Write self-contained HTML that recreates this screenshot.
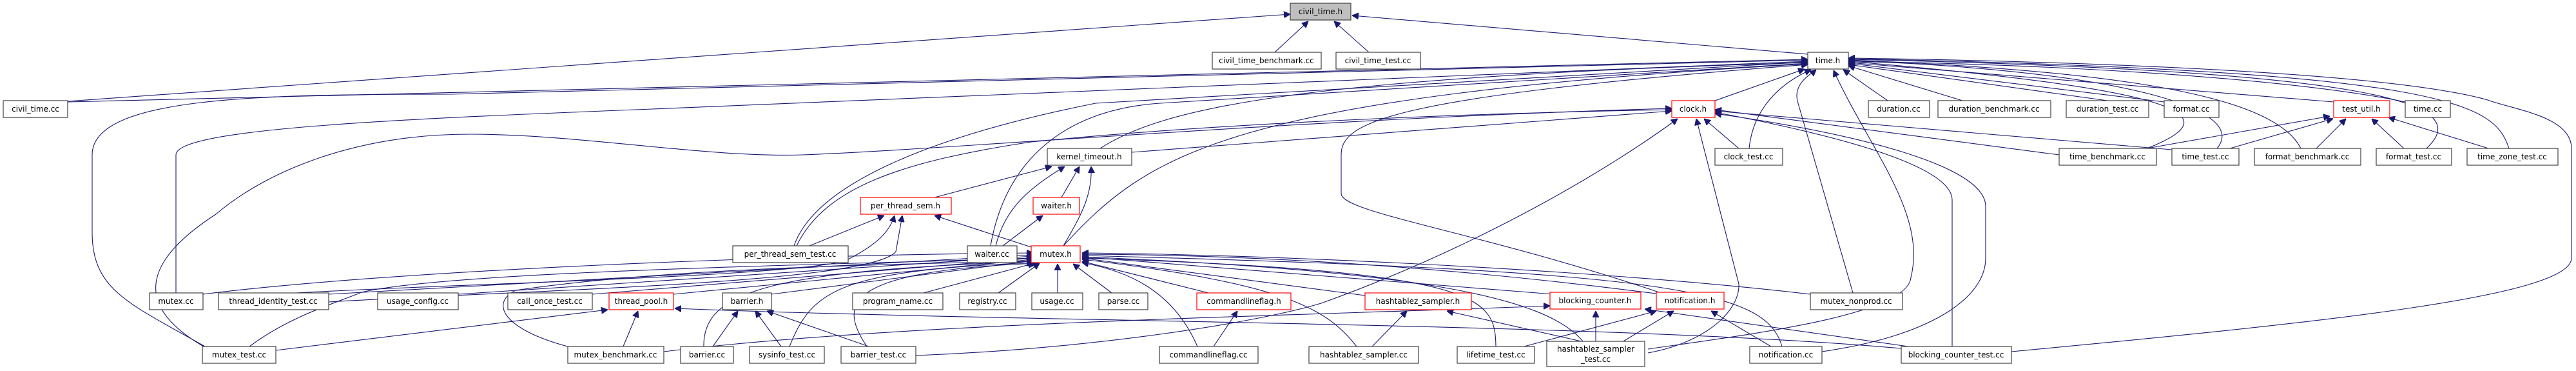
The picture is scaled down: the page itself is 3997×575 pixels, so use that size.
<!DOCTYPE html>
<html><head><meta charset="utf-8"><style>
html,body{margin:0;padding:0;background:#fff;}
svg{display:block;}
text{font-family:"DejaVu Sans","Liberation Sans",sans-serif;font-size:12px;fill:#000;text-anchor:middle;}
.n{fill:#fff;stroke:#404040;stroke-width:1.2;}
.r{fill:#fff;stroke:#ff0000;stroke-width:1.2;}
.g{fill:#bfbfbf;stroke:#404040;stroke-width:1.2;}
path{fill:none;stroke:#191970;stroke-width:1.1;}
</style></head><body>
<svg width="3997" height="575" viewBox="0 0 3997 575" xmlns="http://www.w3.org/2000/svg">
<defs><marker id="a" viewBox="0 0 10 10" refX="10" refY="5" markerWidth="10" markerHeight="10" markerUnits="userSpaceOnUse" orient="auto"><path d="M0,0 L10,5 L0,10 z" style="fill:#191970;stroke:#191970"/></marker></defs>
<g marker-end="url(#a)">
<!-- to civil_time.h -->
<path d="M1978,81 L2030,33"/>
<path d="M2124,81 L2070,33"/>
<path d="M2805,84 L2098,24"/>
<path d="M105,157 L2002,22"/>
<!-- to time.h -->
<path d="M105,158 L2805,92"/>
<path d="M318,537 C200,470 143,450 143,360 L143,240 C143,150 400,146 700,146 L2805,93"/>
<path d="M273,454 L273,240 C273,200 600,185 1012,169 L2805,95"/>
<path d="M1232,381 C1260,300 1400,220 1700,160 L2805,96"/>
<path d="M1707,230 C1800,170 2000,120 2805,97"/>
<path d="M1537,381 C1560,250 1650,170 1800,160 L2805,98"/>
<path d="M1650,381 C1780,240 1900,150 2805,99"/>
<path d="M2577,454 C2300,360 2081,330 2081,300 L2081,240 C2081,190 2150,150 2805,100"/>
<path d="M2661,156 L2800,107"/>
<path d="M2714,230 C2720,170 2760,130 2810,108"/>
<path d="M2875,454 L2790,160 C2780,130 2810,115 2818,108"/>
<path d="M2557,541 C2700,520 2960,490 2965,430 C2990,330 2900,230 2845,109"/>
<path d="M2929,156 L2860,108"/>
<path d="M3045,156 L2868,102"/>
<path d="M3270,156 L2868,100"/>
<path d="M3358,158 L2868,98"/>
<path d="M3621,158 L2868,97"/>
<path d="M3732,158 C3500,110 3000,95 2868,96"/>
<path d="M3331,230 C3460,180 3400,140 2868,95"/>
<path d="M3440,230 C3490,170 3300,110 2868,94"/>
<path d="M3570,230 C3530,150 3300,110 2868,93"/>
<path d="M3765,230 C3840,160 3700,110 2868,92"/>
<path d="M3893,230 C3870,160 3800,110 2868,91"/>
<path d="M3121,545 C3600,500 3990,460 3990,400 L3990,230 C3990,180 3900,170 3860,155 C3700,110 3200,95 2868,90"/>
<!-- to clock.h -->
<path d="M1756,236 L2594,172"/>
<path d="M316,537 C200,470 230,400 335,332 C420,260 560,208 729,208 C900,208 1100,245 1245,240 C1500,230 2000,185 2594,168"/>
<path d="M1236,381 C1280,290 1400,250 1600,220 C1900,190 2300,175 2594,170"/>
<path d="M1421,551 C1700,540 1950,500 2050,470 C2300,380 2500,260 2603,184"/>
<path d="M2557,547 C2650,530 2700,480 2698,440 L2632,184"/>
<path d="M2698,230 L2644,184"/>
<path d="M3195,240 L2661,170"/>
<path d="M3370,232 L2661,172"/>
<path d="M3029,537 L3029,310 C3029,250 2800,200 2661,174"/>
<path d="M2827,545 C3000,520 3081,460 3081,400 L3081,320 C3081,260 2900,210 2661,176"/>
<!-- to kernel_timeout.h -->
<path d="M1450,306 L1632,258"/>
<path d="M1545,381 C1560,320 1600,290 1652,258"/>
<path d="M1647,306 L1675,258"/>
<path d="M1650,381 C1680,330 1695,300 1693,258"/>
<!-- to per_thread_sem.h -->
<path d="M1256,381 L1372,334"/>
<path d="M1603,384 L1450,334"/>
<path d="M460,454 C700,440 1200,430 1310,405 C1360,380 1380,360 1388,334"/>
<path d="M510,468 C800,450 1350,440 1390,390 L1400,334"/>
<!-- to waiter.h -->
<path d="M1556,381 L1618,334"/>
<!-- to mutex.h -->
<path d="M315,456 C600,420 1200,395 1603,392"/>
<path d="M510,456 L1603,395"/>
<path d="M711,456 L1603,397"/>
<path d="M919,456 L1603,400"/>
<path d="M1045,456 L1603,402"/>
<path d="M1197,456 L1603,404"/>
<path d="M1433,454 L1605,408"/>
<path d="M1549,454 L1613,408"/>
<path d="M1641,454 L1641,409"/>
<path d="M1725,454 L1665,409"/>
<path d="M1875,454 L1679,405"/>
<path d="M2118,458 L1679,400"/>
<path d="M2410,456 L1679,398"/>
<path d="M2577,456 C2300,420 2000,395 1679,394"/>
<path d="M2809,456 C2500,420 2000,395 1679,392"/>
<path d="M387,537 C450,490 520,470 561,453 C700,420 1300,410 1603,400"/>
<path d="M881,537 C780,510 760,470 800,450 C1000,420 1300,410 1603,405"/>
<path d="M1092,537 C1090,450 1200,420 1603,405"/>
<path d="M1225,537 C1260,450 1300,420 1603,407"/>
<path d="M1345,537 C1300,470 1310,420 1610,408"/>
<path d="M1858,537 C1820,450 1750,420 1679,407"/>
<path d="M2105,537 C2060,480 2000,440 1679,402"/>
<path d="M2321,537 C2320,460 2300,420 1679,400"/>
<path d="M2457,530 C2400,460 2200,420 1679,398"/>
<path d="M2765,537 C2740,450 2600,420 1679,396"/>
<!-- to thread_pool.h -->
<path d="M428,543 L943,480"/>
<path d="M967,537 L990,482"/>
<path d="M2950,540 C2500,500 1600,500 1047,478"/>
<!-- to barrier.h -->
<path d="M1106,537 L1145,482"/>
<path d="M1212,537 L1172,482"/>
<path d="M1348,537 L1190,482"/>
<!-- to commandlineflag.h -->
<path d="M1883,537 L1920,482"/>
<!-- to hashtablez_sampler.h -->
<path d="M2129,537 L2183,482"/>
<path d="M2458,530 L2245,482"/>
<!-- to blocking_counter.h -->
<path d="M2476,530 L2476,482"/>
<path d="M1030,545 C1400,500 2000,490 2405,474"/>
<path d="M2961,537 L2552,479"/>
<!-- to notification.h -->
<path d="M2517,530 L2597,482"/>
<path d="M2748,537 L2655,482"/>
<path d="M2365,537 L2570,482"/>
<!-- to test_util.h -->
<path d="M3331,230 L3615,180"/>
<path d="M3460,230 L3620,184"/>
<path d="M3594,230 L3640,184"/>
<path d="M3730,230 L3680,184"/>
<path d="M3861,230 L3706,182"/>
</g>
<!-- nodes -->
<rect class="g" x="2002" y="5" width="94" height="26"/><text x="2049" y="22">civil_time.h</text>
<rect class="n" x="5" y="156" width="100" height="26"/><text x="55" y="173">civil_time.cc</text>
<rect class="n" x="1881" y="81" width="169" height="26"/><text x="1965" y="98">civil_time_benchmark.cc</text>
<rect class="n" x="2073" y="81" width="131" height="26"/><text x="2138" y="98">civil_time_test.cc</text>
<rect class="n" x="2805" y="81" width="63" height="26"/><text x="2836" y="98">time.h</text>
<rect class="r" x="2594" y="156" width="67" height="26"/><text x="2627" y="173">clock.h</text>
<rect class="n" x="2899" y="156" width="95" height="26"/><text x="2946" y="173">duration.cc</text>
<rect class="n" x="3007" y="156" width="175" height="26"/><text x="3094" y="173">duration_benchmark.cc</text>
<rect class="n" x="3206" y="156" width="128" height="26"/><text x="3270" y="173">duration_test.cc</text>
<rect class="n" x="3358" y="156" width="85" height="26"/><text x="3400" y="173">format.cc</text>
<rect class="r" x="3621" y="156" width="87" height="26"/><text x="3664" y="173">test_util.h</text>
<rect class="n" x="3732" y="156" width="70" height="26"/><text x="3767" y="173">time.cc</text>
<rect class="n" x="1625" y="230" width="131" height="26"/><text x="1690" y="247">kernel_timeout.h</text>
<rect class="n" x="2661" y="230" width="105" height="26"/><text x="2713" y="247">clock_test.cc</text>
<rect class="n" x="3195" y="230" width="151" height="26"/><text x="3270" y="247">time_benchmark.cc</text>
<rect class="n" x="3370" y="230" width="104" height="26"/><text x="3422" y="247">time_test.cc</text>
<rect class="n" x="3498" y="230" width="165" height="26"/><text x="3580" y="247">format_benchmark.cc</text>
<rect class="n" x="3687" y="230" width="117" height="26"/><text x="3745" y="247">format_test.cc</text>
<rect class="n" x="3828" y="230" width="141" height="26"/><text x="3898" y="247">time_zone_test.cc</text>
<rect class="r" x="1335" y="306" width="141" height="26"/><text x="1405" y="323">per_thread_sem.h</text>
<rect class="r" x="1603" y="306" width="72" height="26"/><text x="1639" y="323">waiter.h</text>
<rect class="n" x="1137" y="381" width="179" height="26"/><text x="1226" y="398">per_thread_sem_test.cc</text>
<rect class="n" x="1501" y="381" width="77" height="26"/><text x="1539" y="398">waiter.cc</text>
<rect class="r" x="1600" y="381" width="76" height="26"/><text x="1638" y="398">mutex.h</text>
<rect class="n" x="232" y="454" width="83" height="26"/><text x="273" y="471">mutex.cc</text>
<rect class="n" x="339" y="454" width="171" height="26"/><text x="424" y="471">thread_identity_test.cc</text>
<rect class="n" x="586" y="454" width="125" height="26"/><text x="648" y="471">usage_config.cc</text>
<rect class="n" x="788" y="454" width="131" height="26"/><text x="853" y="471">call_once_test.cc</text>
<rect class="r" x="945" y="454" width="100" height="26"/><text x="995" y="471">thread_pool.h</text>
<rect class="n" x="1121" y="454" width="76" height="26"/><text x="1159" y="471">barrier.h</text>
<rect class="n" x="1323" y="454" width="140" height="26"/><text x="1393" y="471">program_name.cc</text>
<rect class="n" x="1489" y="454" width="87" height="26"/><text x="1532" y="471">registry.cc</text>
<rect class="n" x="1601" y="454" width="79" height="26"/><text x="1640" y="471">usage.cc</text>
<rect class="n" x="1705" y="454" width="76" height="26"/><text x="1743" y="471">parse.cc</text>
<rect class="r" x="1857" y="454" width="146" height="26"/><text x="1930" y="471">commandlineflag.h</text>
<rect class="r" x="2118" y="454" width="165" height="26"/><text x="2200" y="471">hashtablez_sampler.h</text>
<rect class="r" x="2405" y="453" width="141" height="26"/><text x="2475" y="470">blocking_counter.h</text>
<rect class="r" x="2570" y="453" width="105" height="26"/><text x="2622" y="470">notification.h</text>
<rect class="n" x="2809" y="454" width="143" height="26"/><text x="2880" y="471">mutex_nonprod.cc</text>
<rect class="n" x="314" y="537" width="114" height="26"/><text x="371" y="554">mutex_test.cc</text>
<rect class="n" x="881" y="537" width="149" height="26"/><text x="955" y="554">mutex_benchmark.cc</text>
<rect class="n" x="1056" y="537" width="82" height="26"/><text x="1097" y="554">barrier.cc</text>
<rect class="n" x="1163" y="537" width="116" height="26"/><text x="1221" y="554">sysinfo_test.cc</text>
<rect class="n" x="1305" y="537" width="116" height="26"/><text x="1363" y="554">barrier_test.cc</text>
<rect class="n" x="1799" y="537" width="153" height="26"/><text x="1875" y="554">commandlineflag.cc</text>
<rect class="n" x="2031" y="537" width="170" height="26"/><text x="2116" y="554">hashtablez_sampler.cc</text>
<rect class="n" x="2261" y="537" width="120" height="26"/><text x="2321" y="554">lifetime_test.cc</text>
<rect class="n" x="2400" y="529" width="152" height="39"/><text x="2476" y="545">hashtablez_sampler</text><text x="2476" y="561">_test.cc</text>
<rect class="n" x="2715" y="537" width="112" height="26"/><text x="2771" y="554">notification.cc</text>
<rect class="n" x="2950" y="537" width="171" height="26"/><text x="3035" y="554">blocking_counter_test.cc</text>
</svg>
</body></html>
